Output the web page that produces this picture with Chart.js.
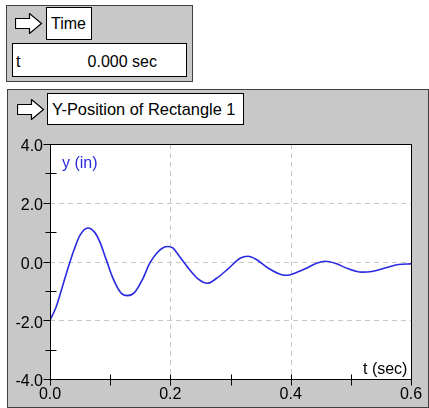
<!DOCTYPE html>
<html>
<head>
<meta charset="utf-8">
<script src="https://cdn.jsdelivr.net/npm/chart.js@4/dist/chart.umd.min.js"></script>
<style>
  body { margin: 0; width: 429px; height: 408px; position: relative; overflow: hidden; background: #fff;
         font-family: "Liberation Sans", Arial, sans-serif; font-size: 16px; }
  .panel { position: absolute; background: #c8c8c8; border: 1px solid #404040; box-sizing: border-box; }
  .box { position: absolute; background: #fff; border: 1px solid #000; box-sizing: border-box; white-space: nowrap; }
  .arrow { position: absolute; }
  .txt { position: absolute; white-space: nowrap; line-height: 16px; }
  canvas { position: absolute; left: 0; top: 0; }
</style>
</head>
<body>
<div class="panel" style="left:6px;top:5px;width:187px;height:77px"></div>
<svg class="arrow" style="left:15px;top:13px" width="28" height="21" viewBox="0 0 28 21">
  <polygon points="0.5,5.5 14.5,5.5 14.5,0.5 26.5,10.5 14.5,20.5 14.5,15.5 0.5,15.5" fill="#fff" stroke="#000" stroke-width="1.2"/>
</svg>
<div class="box" style="left:46px;top:7px;width:46px;height:33px;line-height:31px;padding-left:4px">Time</div>
<div class="box" style="left:12px;top:43px;width:175px;height:34px;line-height:36px">
  <span style="position:absolute;left:3px">t</span>
  <span style="position:absolute;right:29px">0.000 sec</span>
</div>

<div class="panel" style="left:7px;top:89px;width:422px;height:319px"></div>
<svg class="arrow" style="left:17px;top:99px" width="28" height="21" viewBox="0 0 28 21">
  <polygon points="0.5,5.5 14.5,5.5 14.5,0.5 26.5,10.5 14.5,20.5 14.5,15.5 0.5,15.5" fill="#fff" stroke="#000" stroke-width="1.2"/>
</svg>
<div class="box" style="left:47px;top:93px;width:197px;height:32px;line-height:31px;padding-left:4px;font-size:16.4px">Y-Position of Rectangle 1</div>

<canvas id="chart" width="429" height="408"></canvas>

<div class="txt" style="left:62px;top:155px;color:#2a2ae0">y (in)</div>
<div class="txt" style="left:363px;top:361px;color:#000">t (sec)</div>

<script>
// t (sec) and y (in)
const tValues = [0, 0.01, 0.02, 0.03, 0.04, 0.05, 0.063, 0.074, 0.083, 0.093, 0.104, 0.118, 0.129, 0.14,
  0.154, 0.166, 0.178, 0.188, 0.196, 0.204, 0.215, 0.229, 0.246, 0.262, 0.277, 0.296, 0.316, 0.329, 0.343,
  0.363, 0.385, 0.395, 0.404, 0.424, 0.443, 0.458, 0.474, 0.496, 0.518, 0.535, 0.557, 0.579, 0.6];
const yValues = [-2.0, -1.56, -0.9, -0.22, 0.4, 0.9, 1.14, 1.0, 0.66, 0.09, -0.54, -1.07, -1.16, -1.07,
  -0.6, -0.05, 0.3, 0.47, 0.51, 0.46, 0.18, -0.2, -0.59, -0.74, -0.57, -0.25, 0.11, 0.18, 0.07,
  -0.23, -0.45, -0.47, -0.42, -0.25, -0.06, 0.01, -0.06, -0.25, -0.36, -0.34, -0.22, -0.1, -0.08];

const xTickLabels = ['0.0', '0.2', '0.4', '0.6'];
const yTickLabels = ['-4.0', '-2.0', '0.0', '2.0', '4.0'];

const tickFont = { family: '"Liberation Sans", Arial, sans-serif', size: 16 };

function isMajorX(v) { return Math.round(v * 10) % 2 === 0; }
function isMajorY(v) { return Math.round(v) % 2 === 0; }

// background, dashed grid, frame and tick marks
const framePlugin = {
  id: 'frame',
  beforeDatasetsDraw(chart) {
    const { ctx, chartArea: a, scales } = chart;
    ctx.save();
    ctx.fillStyle = '#fff';
    ctx.fillRect(a.left, a.top, a.right - a.left, a.bottom - a.top);
    ctx.strokeStyle = '#c8c8c8';
    ctx.lineWidth = 1;
    ctx.setLineDash([5, 4]);
    scales.x.ticks.forEach(t => {
      const px = Math.round(scales.x.getPixelForValue(t.value)) + 0.5;
      if (isMajorX(t.value) && px > a.left + 2 && px < a.right - 2) {
        ctx.beginPath(); ctx.moveTo(px, a.top); ctx.lineTo(px, a.bottom); ctx.stroke();
      }
    });
    scales.y.ticks.forEach(t => {
      const py = Math.round(scales.y.getPixelForValue(t.value)) + 0.5;
      if (isMajorY(t.value) && py > a.top + 2 && py < a.bottom - 2) {
        ctx.beginPath(); ctx.moveTo(a.left, py); ctx.lineTo(a.right, py); ctx.stroke();
      }
    });
    ctx.restore();
  },
  afterDatasetsDraw(chart) {
    const { ctx, chartArea: a, scales } = chart;
    ctx.save();
    ctx.strokeStyle = '#000';
    ctx.lineWidth = 1;
    const L = Math.round(a.left) + 0.5, R = Math.round(a.right) + 0.5;
    const T = Math.round(a.top) + 0.5, B = Math.round(a.bottom) + 0.5;
    ctx.strokeRect(L, T, R - L, B - T);
    ctx.beginPath();
    scales.y.ticks.forEach(t => {
      const py = Math.round(scales.y.getPixelForValue(t.value)) + 0.5;
      if (isMajorY(t.value)) { ctx.moveTo(L - 7, py); ctx.lineTo(L, py); }
      else { ctx.moveTo(L - 5, py); ctx.lineTo(L + 6, py); }
    });
    scales.x.ticks.forEach(t => {
      const px = Math.round(scales.x.getPixelForValue(t.value)) + 0.5;
      ctx.moveTo(px, B - 5); ctx.lineTo(px, B + 6);
    });
    ctx.stroke();
    ctx.restore();
  }
};

new Chart(document.getElementById('chart'), {
  type: 'line',
  data: {
    datasets: [{
      data: tValues.map((t, i) => ({ x: t, y: yValues[i] })),
      borderColor: '#2a2ae0',
      borderWidth: 1.6,
      pointRadius: 0,
      fill: false,
      cubicInterpolationMode: 'monotone'
    }]
  },
  options: {
    responsive: false,
    animation: false,
    layout: { padding: { top: 144, right: 18, bottom: 0, left: 0 } },
    plugins: { legend: { display: false }, tooltip: { enabled: false } },
    scales: {
      x: {
        type: 'linear', min: 0, max: 0.6,
        afterFit: s => { s.height = 29; },
        grid: { display: false, drawTicks: false },
        border: { display: false },
        ticks: {
          stepSize: 0.1, autoSkip: false, maxRotation: 0, padding: 6, color: '#000', font: tickFont,
          callback: v => isMajorX(v) ? xTickLabels[Math.round(v * 5)] : ''
        }
      },
      y: {
        min: -4, max: 4,
        afterFit: s => { s.width = 50; },
        grid: { display: false, drawTicks: false },
        border: { display: false },
        ticks: {
          stepSize: 1, autoSkip: false, padding: 7, labelOffset: 3, color: '#000', font: tickFont,
          callback: v => isMajorY(v) ? yTickLabels[Math.round(v / 2) + 2] : ''
        }
      }
    }
  },
  plugins: [framePlugin]
});
</script>
</body>
</html>
